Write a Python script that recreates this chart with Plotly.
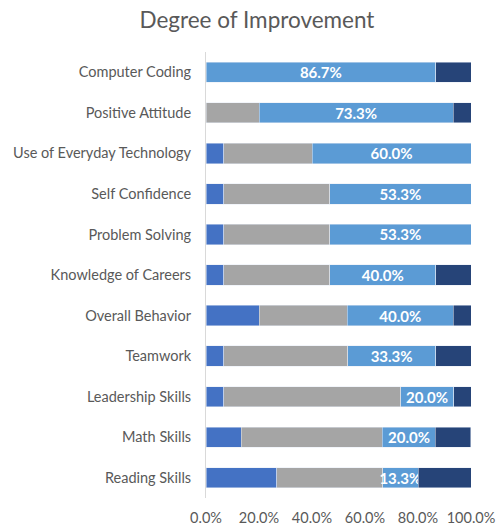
import plotly.graph_objects as go

categories = ["Computer Coding", "Positive Attitude", "Use of Everyday Technology",
              "Self Confidence", "Problem Solving", "Knowledge of Careers",
              "Overall Behavior", "Teamwork", "Leadership Skills", "Math Skills",
              "Reading Skills"]
seg_blue = [0, 0, 6.7, 6.7, 6.7, 6.7, 20.0, 6.7, 6.7, 13.3, 26.7]
seg_gray = [0, 20.0, 33.3, 40.0, 40.0, 40.0, 33.3, 46.7, 66.7, 53.3, 40.0]
seg_light = [86.7, 73.3, 60.0, 53.3, 53.3, 40.0, 40.0, 33.3, 20.0, 20.0, 13.3]
seg_navy = [13.3, 6.7, 0, 0, 0, 13.3, 6.7, 13.3, 6.7, 13.3, 20.0]
tick_vals = [0, 20, 40, 60, 80, 100]
tick_text = ["0.0%", "20.0%", "40.0%", "60.0%", "80.0%", "100.0%"]

FONT = "Lato"
fig = go.Figure()
fig.add_trace(go.Bar(y=categories, x=seg_blue, orientation="h", marker_color="#4472C4",
                     name="a"))
fig.add_trace(go.Bar(y=categories, x=seg_gray, orientation="h", marker_color="#A5A5A5",
                     name="b"))
fig.add_trace(go.Bar(y=categories, x=seg_light, orientation="h", marker_color="#5B9BD5",
                     name="c", text=[f"{v:.1f}%" for v in seg_light],
                     textposition="inside", insidetextanchor="middle",
                     constraintext="none", cliponaxis=False,
                     textfont=dict(color="white", size=15, family=FONT, weight="bold")))
fig.add_trace(go.Bar(y=categories, x=seg_navy, orientation="h", marker_color="#264478",
                     name="d"))

fig.update_layout(
    barmode="stack",
    bargap=0.5,
    width=498, height=529,
    margin=dict(l=206, r=27, t=52, b=31, autoexpand=False),
    paper_bgcolor="white", plot_bgcolor="white",
    showlegend=False,
    font=dict(family=FONT, color="#595959", size=14.5),
    title=dict(text="Degree of Improvement", x=0.516, xanchor="center", y=0.977, yanchor="top",
               font=dict(size=22.5, color="#595959", family=FONT), automargin=False),
    uniformtext=dict(mode=False),
)
fig.update_xaxes(range=[0, 100], tickvals=tick_vals, ticktext=tick_text, showgrid=False,
                 zeroline=False, showline=False, ticks="", tickfont=dict(size=14.5),
                 ticklabelstandoff=9, automargin=False)
fig.update_yaxes(autorange="reversed", showline=True, linecolor="#D9D9D9", linewidth=1,
                 ticks="", ticklabelstandoff=11, tickfont=dict(size=14.5), automargin=False)

fig.write_html("out.html", post_script="document.body.style.margin='0';",
               config={"displayModeBar": False})
